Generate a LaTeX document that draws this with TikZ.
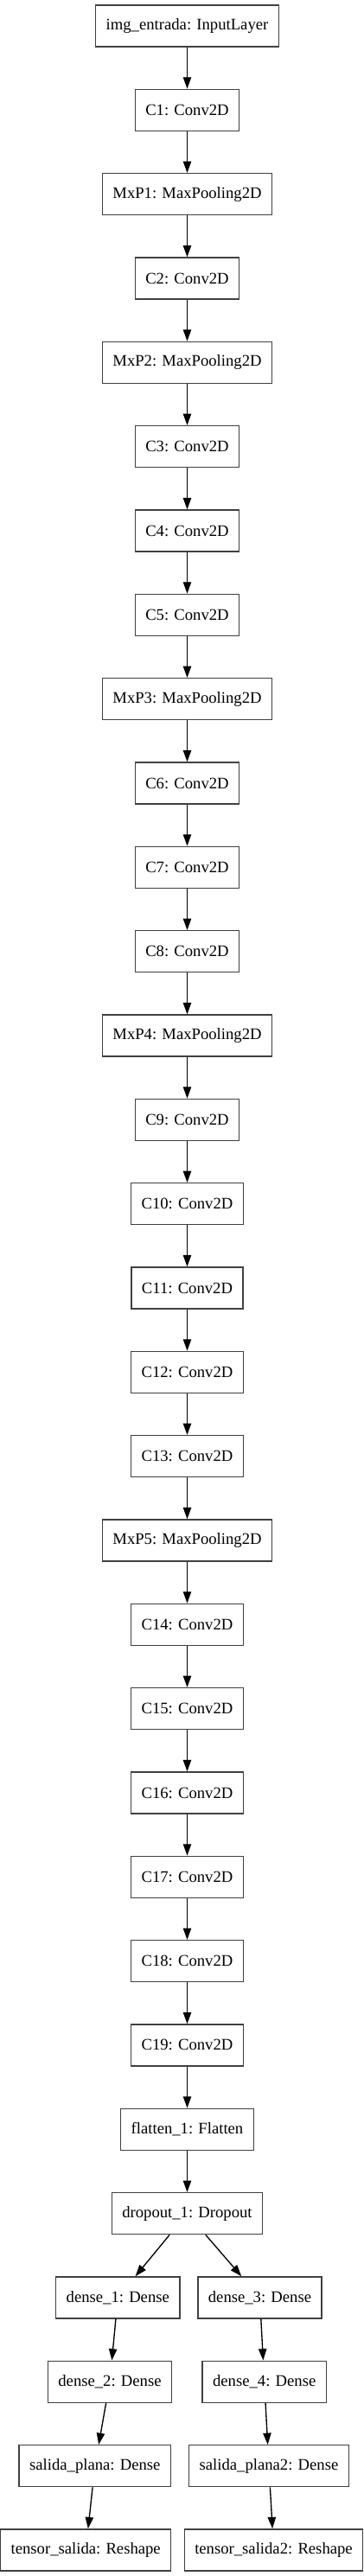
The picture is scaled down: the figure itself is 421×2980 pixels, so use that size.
\documentclass[tikz,border=0pt]{standalone}
\usepackage{fontspec}
\setmainfont{Liberation Serif}
\usetikzlibrary{arrows.meta}
\tikzset{
  capa/.style={draw=black!75,line width=1pt,minimum height=36pt,inner xsep=9pt,font=\fontsize{14}{16}\selectfont},
  flecha/.style={-{Triangle[length=10pt,width=7pt]},line width=1pt}
}
\begin{document}
\begin{tikzpicture}[x=0.75pt,y=-0.75pt]
\useasboundingbox (0,0) rectangle (421,2980);
% tronco principal
\foreach \n/\etiq [count=\i, remember=\n as \prev (initially entrada)] in {entrada/img\_entrada: InputLayer,
  C1/C1: Conv2D, MxP1/MxP1: MaxPooling2D, C2/C2: Conv2D, MxP2/MxP2: MaxPooling2D,
  C3/C3: Conv2D, C4/C4: Conv2D, C5/C5: Conv2D, MxP3/MxP3: MaxPooling2D,
  C6/C6: Conv2D, C7/C7: Conv2D, C8/C8: Conv2D, MxP4/MxP4: MaxPooling2D,
  C9/C9: Conv2D, C10/C10: Conv2D, C11/C11: Conv2D, C12/C12: Conv2D, C13/C13: Conv2D, MxP5/MxP5: MaxPooling2D,
  C14/C14: Conv2D, C15/C15: Conv2D, C16/C16: Conv2D, C17/C17: Conv2D, C18/C18: Conv2D, C19/C19: Conv2D,
  flatten/flatten\_1: Flatten, dropout/dropout\_1: Dropout}{
  \node[capa] (\n) at (216.5,{30+(\i-1)*97.33}) {\etiq};
  \ifnum\i>1 \draw[flecha] (\prev) -- (\n);\fi
}
% rama izquierda
\node[capa] (dense1) at (136.3,2657.9) {dense\_1: Dense};
\node[capa] (dense2) at (127,2755.2) {dense\_2: Dense};
\node[capa] (plana) at (109.8,2852.6) {salida\_plana: Dense};
\node[capa] (tensor) at (99.2,2949.9) {tensor\_salida: Reshape};
% rama derecha
\node[capa] (dense3) at (300.5,2657.9) {dense\_3: Dense};
\node[capa] (dense4) at (305.7,2755.2) {dense\_4: Dense};
\node[capa] (plana2) at (311,2852.6) {salida\_plana2: Dense};
\node[capa] (tensor2) at (316.5,2949.9) {tensor\_salida2: Reshape};
\draw[flecha] (dropout) -- (dense1);
\draw[flecha] (dense1) -- (dense2);
\draw[flecha] (dense2) -- (plana);
\draw[flecha] (plana) -- (tensor);
\draw[flecha] (dropout) -- (dense3);
\draw[flecha] (dense3) -- (dense4);
\draw[flecha] (dense4) -- (plana2);
\draw[flecha] (plana2) -- (tensor2);
\end{tikzpicture}
\end{document}
